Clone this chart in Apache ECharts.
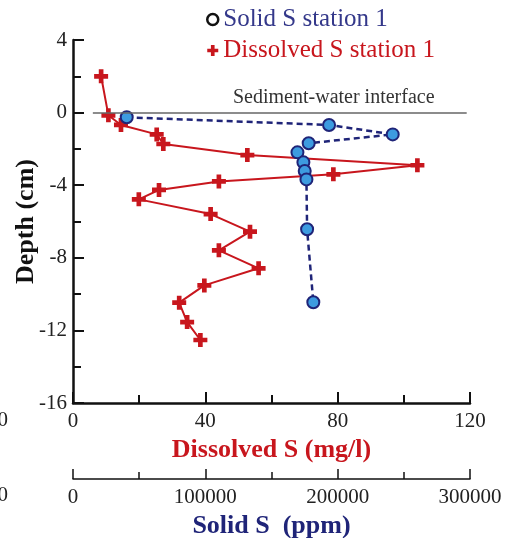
<!DOCTYPE html>
<html><head><meta charset="utf-8">
<script src="https://cdn.jsdelivr.net/npm/echarts@6/dist/echarts.min.js"></script>
<style>html,body{margin:0;padding:0;background:#fff}#c{width:508px;height:538px}</style>
</head><body><div id="c"></div>
<script>
// Dissolved S station 1 (mg/l) vs depth (cm)
const dissolvedS = [8.5, 10.7, 14.5, 25.3, 27.3, 52.7, 104.1, 78.7, 44.1, 26.0, 19.9, 41.6, 53.5, 44.1, 56.1, 39.7, 32.1, 34.5, 38.5];
const dissolvedDepth = [2.0, -0.15, -0.68, -1.2, -1.73, -2.34, -2.9, -3.4, -3.79, -4.26, -4.78, -5.59, -6.56, -7.59, -8.58, -9.52, -10.47, -11.54, -12.53];
// Solid S station 1 (ppm) vs depth (cm)
const solidS = [40600, 193500, 241600, 178100, 169600, 174100, 175100, 176400, 176900, 181600];
const solidDepth = [-0.26, -0.68, -1.2, -1.69, -2.19, -2.74, -3.22, -3.68, -6.43, -10.45];
// Sediment-water interface line (dissolved-axis units, depth)
const interfaceX = [6, 119];
const interfaceDepth = 0;
const depthTicks = [-16, 4, 4];       // min, max, interval
const dissolvedTicks = [0, 120, 40];
const solidTicks = [0, 300000, 100000];

const SERIF = 'Liberation Serif';
const RED = '#c8161d';
const NAVY = '#1f2478';
const plusPath = 'path://M-1,-3H1V-1H3V1H1V3H-1V1H-3V-1H-1Z';

const chart = echarts.init(document.getElementById('c'), null, {renderer: 'canvas'});
const axisCommon = {
  axisLine: {show: true, onZero: false, lineStyle: {color: '#111', width: 2.5}},
  axisTick: {show: true, inside: true, length: 11, lineStyle: {color: '#111', width: 2}},
  minorTick: {show: true, splitNumber: 2, length: 8, lineStyle: {color: '#111', width: 2}},
  splitLine: {show: false},
  axisLabel: {color: '#222', fontFamily: SERIF, fontSize: 21, margin: 8}
};
chart.setOption({
  animation: false,
  grid: {left: 73, right: 38, top: 40, bottom: 135, containLabel: false, outerBoundsMode: 'none'},
  legend: {
    orient: 'vertical', left: 201, top: 2, itemGap: 6, itemWidth: 11, itemHeight: 11,
    textStyle: {fontFamily: SERIF, fontSize: 25},
    data: [
      {name: 'Solid S station 1', icon: 'circle', itemStyle: {color: '#fff', borderColor: '#111', borderWidth: 2.5}, textStyle: {color: '#34388a'}},
      {name: 'Dissolved S station 1', icon: plusPath, itemStyle: {color: RED, borderWidth: 0}, textStyle: {color: RED}}
    ]
  },
  xAxis: [
    Object.assign({}, axisCommon, {
      type: 'value', position: 'bottom', min: dissolvedTicks[0], max: dissolvedTicks[1], interval: dissolvedTicks[2],
      name: 'Dissolved S (mg/l)', nameLocation: 'middle', nameGap: 28,
      nameTextStyle: {color: RED, fontFamily: SERIF, fontSize: 26, fontWeight: 'bold'}
    }),
    Object.assign({}, axisCommon, {
      type: 'value', position: 'bottom', offset: 76, min: solidTicks[0], max: solidTicks[1], interval: solidTicks[2],
      axisLine: {show: true, onZero: false, lineStyle: {color: '#111', width: 1.5}},
      axisTick: {show: true, inside: true, length: 10, lineStyle: {color: '#111', width: 1.5}},
      minorTick: {show: true, splitNumber: 2, length: 7, lineStyle: {color: '#111', width: 1.5}},
      axisLabel: {color: '#222', fontFamily: SERIF, fontSize: 21, margin: 8, formatter: v => String(v)},
      name: 'Solid S  (ppm)', nameLocation: 'middle', nameGap: 30,
      nameTextStyle: {color: NAVY, fontFamily: SERIF, fontSize: 26, fontWeight: 'bold'}
    })
  ],
  yAxis: Object.assign({}, axisCommon, {
    type: 'value', min: depthTicks[0], max: depthTicks[1], interval: depthTicks[2],
    axisLabel: {color: '#222', fontFamily: SERIF, fontSize: 21, margin: 6},
    name: 'Depth (cm)', nameLocation: 'middle', nameGap: 34, nameRotate: 90, nameMoveOverlap: false,
    nameTextStyle: {color: '#111', fontFamily: SERIF, fontSize: 26, fontWeight: 'bold'}
  }),
  series: [
    {
      name: 'Solid S station 1', type: 'line', xAxisIndex: 1, yAxisIndex: 0,
      data: solidS.map((v, i) => [v, solidDepth[i]]),
      symbol: 'circle', symbolSize: 12,
      itemStyle: {color: '#3d9be0', borderColor: NAVY, borderWidth: 2},
      lineStyle: {color: NAVY, width: 2.5, type: [6, 4]},
      z: 3
    },
    {
      name: 'Dissolved S station 1', type: 'line', xAxisIndex: 0, yAxisIndex: 0,
      data: dissolvedS.map((v, i) => [v, dissolvedDepth[i]]),
      symbol: plusPath, symbolSize: 14,
      itemStyle: {color: RED, borderWidth: 0},
      lineStyle: {color: RED, width: 2},
      markLine: {
        silent: true, symbol: 'none',
        lineStyle: {color: '#666', width: 1.5, type: 'solid'},
        label: {show: false},
        data: [[{coord: [interfaceX[0], interfaceDepth]}, {coord: [interfaceX[1], interfaceDepth]}]]
      },
      z: 2
    }
  ],
  graphic: [
    {type: 'text', left: 233, top: 88, style: {text: 'Sediment-water interface', font: '20px "Liberation Serif"', fill: '#333'}},
    {type: 'text', right: 500, top: 410, style: {text: '0', font: '21px "Liberation Serif"', fill: '#222'}},
    {type: 'text', right: 500, top: 485, style: {text: '0', font: '21px "Liberation Serif"', fill: '#222'}}
  ]
});
</script></body></html>
